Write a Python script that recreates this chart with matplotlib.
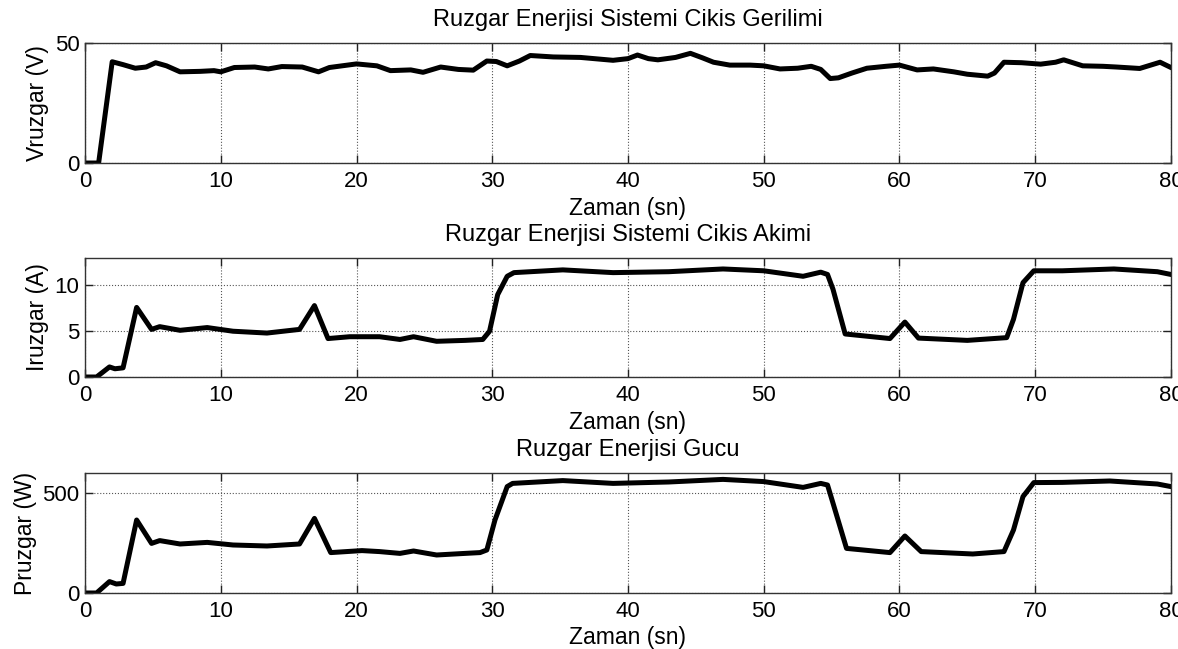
import matplotlib
matplotlib.use("Agg")
import matplotlib.pyplot as plt
import numpy as np

plt.rcParams['font.family'] = ['Liberation Sans', 'DejaVu Sans']

fontsize = 16

# Ruzgar gerilimi (V)
t_v = [0, 1.0, 2.0, 2.8, 3.7, 4.5, 5.2, 6.0, 7.0, 8.5, 9.5, 10.0, 11.0, 12.5, 13.5,
       14.5, 16.0, 17.2, 18.0, 20.0, 21.5, 22.5, 24.0, 24.9, 26.2, 27.5, 28.6, 29.6,
       30.3, 31.1, 32.0, 32.8, 34.5, 36.5, 38.9, 40.0, 40.7, 41.5, 42.2, 43.5, 44.6,
       45.5, 46.3, 47.5, 49.0, 50.0, 51.2, 52.5, 53.5, 54.2, 54.9, 55.5, 56.5, 57.6,
       59.0, 60.0, 61.3, 62.5, 64.0, 65.0, 66.5, 67.0, 67.7, 69.0, 70.4, 71.5, 72.1,
       73.5, 75.0, 76.0, 77.7, 79.2, 80.0]
v_ruzgar = [0, 0, 42.2, 41, 39.5, 40, 41.8, 40.5, 38, 38.2, 38.5, 38, 39.8, 40, 39.2,
            40.2, 40, 38, 39.8, 41.3, 40.5, 38.5, 38.8, 37.8, 40, 39, 38.7, 42.5,
            42.3, 40.5, 42.5, 44.8, 44.2, 44, 42.8, 43.5, 45, 43.5, 43, 44, 45.7,
            43.8, 42, 40.8, 40.8, 40.5, 39.2, 39.5, 40.3, 39, 35.2, 35.5, 37.5, 39.5,
            40.3, 40.8, 38.8, 39.2, 38, 37, 36.2, 37.5, 42, 41.8, 41.2, 42, 43,
            40.5, 40.3, 40, 39.4, 42, 39.8]

# Ruzgar akimi (A)
t_i = [0, 0.85, 1.8, 2.2, 2.8, 3.8, 4.9, 5.5, 7.0, 9.0, 10.9, 13.4, 15.8, 16.9, 17.9,
       19.5, 21.7, 23.2, 24.2, 25.9, 28.0, 29.3, 29.8, 30.4, 31.1, 31.6, 35.2, 38.9,
       43.0, 47.0, 50.0, 52.9, 54.2, 54.7, 55.1, 56.0, 59.3, 60.4, 61.4, 65.0, 67.9,
       68.4, 69.1, 69.9, 72.0, 75.8, 79.0, 80.0]
i_ruzgar = [0, 0, 1.1, 0.9, 1.0, 7.6, 5.2, 5.5, 5.1, 5.4, 5.0, 4.8, 5.2, 7.8, 4.2,
            4.4, 4.4, 4.1, 4.4, 3.9, 4.0, 4.1, 5.0, 9.0, 11.0, 11.4, 11.7, 11.4,
            11.5, 11.8, 11.6, 11.0, 11.45, 11.2, 9.6, 4.7, 4.2, 6.0, 4.25, 4.0, 4.3,
            6.3, 10.3, 11.6, 11.6, 11.8, 11.5, 11.2]

# Ruzgar gucu (W)
t_p = [0, 0.85, 1.8, 2.3, 2.8, 3.8, 4.9, 5.5, 7.0, 9.0, 10.9, 13.4, 15.8, 16.9, 18.1,
       20.4, 21.7, 23.2, 24.2, 25.9, 28.0, 29.1, 29.6, 30.2, 31.1, 31.5, 35.2, 38.9,
       43.0, 47.0, 50.0, 52.9, 54.2, 54.7, 55.1, 56.1, 59.3, 60.4, 61.6, 65.4, 67.7,
       68.4, 69.1, 69.9, 72.0, 75.5, 79.0, 80.0]
p_ruzgar = [0, 0, 57, 45, 48, 365, 248, 262, 245, 253, 240, 235, 245, 373, 202,
            212, 207, 198, 210, 190, 198, 202, 215, 365, 532, 548, 562, 548,
            555, 568, 557, 528, 548, 540, 450, 223, 202, 285, 207, 195, 207,
            315, 482, 552, 553, 560, 545, 532]

titles = ['Ruzgar Enerjisi Sistemi Cikis Gerilimi',
          'Ruzgar Enerjisi Sistemi Cikis Akimi',
          'Ruzgar Enerjisi Gucu']
ylabels = ['Vruzgar (V)', 'Iruzgar (A)', 'Pruzgar (W)']
ylims = [50, 13, 600]
yticks = [[0, 50], [0, 5, 10], [0, 500]]
xticks = [0, 10, 20, 30, 40, 50, 60, 70, 80]

fig = plt.figure(figsize=(11.78, 6.49), dpi=100)
boxes = [[0.0722, 0.7488, 0.9218, 0.1849],
         [0.0722, 0.4191, 0.9218, 0.1834],
         [0.0722, 0.0863, 0.9218, 0.1849]]
series = [(t_v, v_ruzgar), (t_i, i_ruzgar), (t_p, p_ruzgar)]

for k in range(3):
    ax = fig.add_axes(boxes[k])
    t, y = series[k]
    ax.plot(t, y, color='black', linewidth=3.6, solid_joinstyle='round')
    ax.set_xlim(0, 80)
    ax.set_ylim(0, ylims[k])
    ax.set_xticks(xticks)
    ax.set_yticks(yticks[k])
    ax.grid(True, linestyle=':', color='#555555', linewidth=0.8)
    ax.tick_params(direction='in', length=6, width=1, top=True, right=True,
                   labelsize=fontsize, colors='#222222', labelcolor='black')
    ax.tick_params(axis='x', pad=6)
    ax.tick_params(axis='y', pad=4)
    for s in ax.spines.values():
        s.set_color('#333333')
        s.set_linewidth(1)
    ax.set_title(titles[k], fontsize=17, pad=12)
    ax.set_xlabel('Zaman (sn)', fontsize=16.5, labelpad=3)
    ax.set_ylabel(ylabels[k], fontsize=16.5, labelpad=4)

plt.savefig('out.png', dpi=100)
